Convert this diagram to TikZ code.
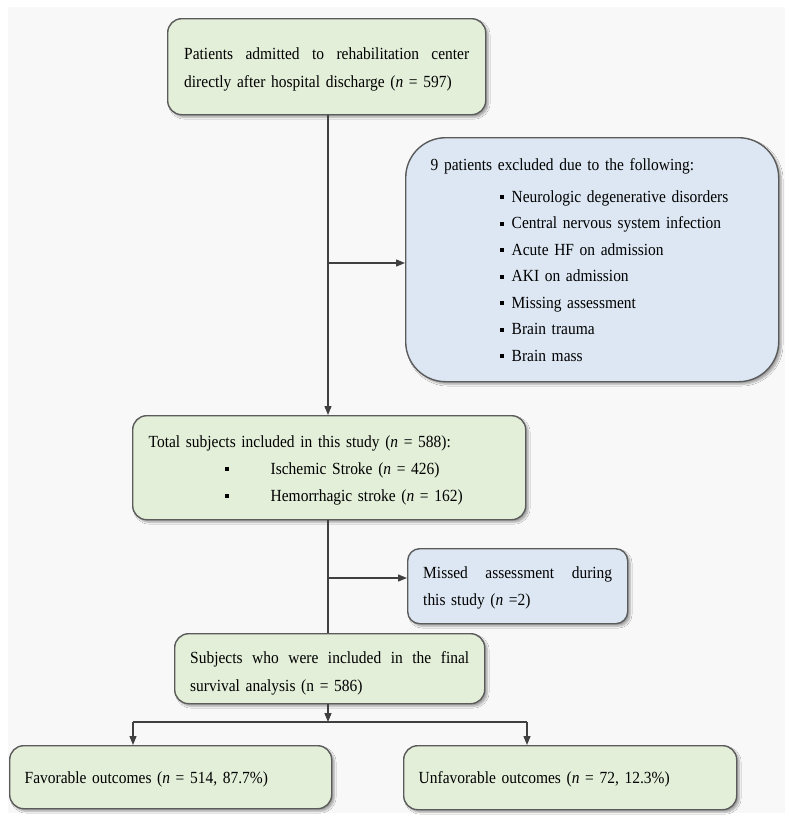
\documentclass[tikz,border=0pt]{standalone}
\usepackage{fontspec}
\setmainfont{Liberation Serif}[FakeStretch=0.91]
\usetikzlibrary{arrows.meta,shadows.blur,calc}
\definecolor{boxgreen}{HTML}{E3EFD9}
\definecolor{boxblue}{HTML}{DCE7F3}
\definecolor{edgecol}{HTML}{5B5B5B}
\definecolor{wirecol}{HTML}{404040}
\definecolor{bggray}{HTML}{F8F8F8}
\newcommand{\sqbul}{\rule[3pt]{4pt}{4pt}}
\newcommand{\spread}[2]{\hbox to #1{#2}}
\newcommand{\lift}[1]{\rule{0pt}{#1}}
\begin{document}
\begin{tikzpicture}[x=1pt,y=-1pt,
  box/.style={draw=edgecol, line width=1.4pt, rounded corners=14pt, anchor=north west,
    inner sep=0pt, align=left,
    blur shadow={shadow xshift=2.5pt, shadow yshift=-2.5pt, shadow blur steps=6, shadow opacity=35},
    font=\fontsize{17}{27.6}\selectfont},
  gbox/.style={box, fill=boxgreen},
  bbox/.style={box, fill=boxblue},
  wire/.style={draw=wirecol, line width=1.3pt},
  arr/.style={wire, -{Triangle[length=9pt,width=7pt]}}]
\useasboundingbox (0,0) rectangle (791,823);
\fill[white] (0,0) rectangle (791,823);
\fill[bggray] (8,7) rectangle (785,813);

\node[gbox, minimum width=318pt, minimum height=96pt, text width=285pt] (top) at (167,18)
  {\lift{17.5pt}\spread{285pt}{Patients\hfill admitted\hfill to\hfill rehabilitation\hfill center}\\
   directly after hospital discharge (\textit{n} = 597)};

\node[bbox, rounded corners=40pt, minimum width=373pt, minimum height=244pt, text width=323pt,
  font=\fontsize{17}{26.5}\selectfont] (excl) at (405,137)
  {9 patients excluded due to the following:\\[5.5pt]
   \hspace*{69pt}\sqbul\hspace*{8pt}Neurologic degenerative disorders\\
   \hspace*{69pt}\sqbul\hspace*{8pt}Central nervous system infection\\
   \hspace*{69pt}\sqbul\hspace*{8pt}Acute HF on admission\\
   \hspace*{69pt}\sqbul\hspace*{8pt}AKI on admission\\
   \hspace*{69pt}\sqbul\hspace*{8pt}Missing assessment\\
   \hspace*{69pt}\sqbul\hspace*{8pt}Brain trauma\\
   \hspace*{69pt}\sqbul\hspace*{8pt}Brain mass};

\node[gbox, minimum width=393pt, minimum height=104pt, text width=361pt,
  font=\fontsize{17}{26.8}\selectfont] (mid) at (132,415)
  {\lift{16.7pt}Total subjects included in this study (\textit{n} = 588):\\
   \hspace*{76pt}\sqbul\hspace*{42pt}Ischemic Stroke (\textit{n} = 426)\\
   \hspace*{76pt}\sqbul\hspace*{42pt}Hemorrhagic stroke (\textit{n} = 162)};

\node[bbox, rounded corners=12pt, minimum width=220pt, minimum height=75pt, text width=189pt,
  font=\fontsize{17}{27}\selectfont] (missed) at (407,548)
  {\lift{15.7pt}\spread{189pt}{Missed\hfill assessment\hfill during}\\
   this study (\textit{n} =2)};

\node[gbox, minimum width=310pt, minimum height=70pt, text width=279pt,
  font=\fontsize{17}{28.5}\selectfont] (final) at (174,633)
  {\lift{21.5pt}\spread{279pt}{Subjects\hfill who\hfill were\hfill included\hfill in\hfill the\hfill final}\\
   survival analysis (n = 586)};

\node[gbox, text depth=0pt, minimum width=322pt, minimum height=63pt, text width=292pt] (fav) at (9,745)
  {Favorable outcomes (\textit{n} = 514, 87.7\%)};

\node[gbox, text depth=0pt, minimum width=333pt, minimum height=64pt, text width=303pt] (unfav) at (403,745)
  {Unfavorable outcomes (\textit{n} = 72, 12.3\%)};

\coordinate (spine) at (328,0);
\coordinate (b1) at (328,263);
\coordinate (b2) at (328,578);
\coordinate (fork) at (328,722);
\coordinate (forkL) at (133,722);
\coordinate (forkR) at (527,722);

\draw[arr] (spine |- top.south) -- (spine |- mid.north);
\draw[arr] (b1) -- (b1 -| excl.west);
\draw[wire] (spine |- mid.south) -- (spine |- final.north);
\draw[arr] (b2) -- (b2 -| missed.west);
\draw[arr] (spine |- final.south) -- (fork);
\draw[wire] (forkL) -- (forkR);
\draw[arr] (forkL) -- (forkL |- fav.north);
\draw[arr] (forkR) -- (forkR |- unfav.north);
\end{tikzpicture}
\end{document}
